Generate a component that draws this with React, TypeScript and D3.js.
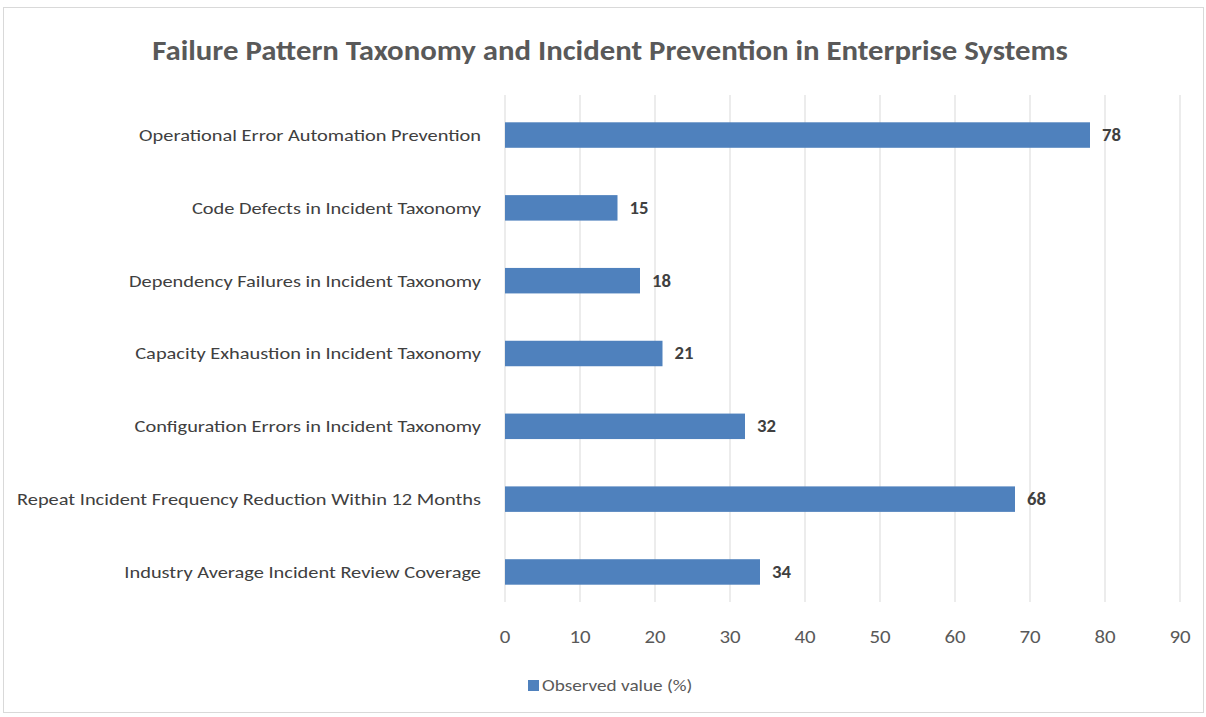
import React from "react";
import * as d3 from "d3";

const categories = [
  "Operational Error Automation Prevention",
  "Code Defects in Incident Taxonomy",
  "Dependency Failures in Incident Taxonomy",
  "Capacity Exhaustion in Incident Taxonomy",
  "Configuration Errors in Incident Taxonomy",
  "Repeat Incident Frequency Reduction Within 12 Months",
  "Industry Average Incident Review Coverage",
];
const values = [78, 15, 18, 21, 32, 68, 34];
const xTicks = [0, 10, 20, 30, 40, 50, 60, 70, 80, 90];
const title = "Failure Pattern Taxonomy and Incident Prevention in Enterprise Systems";
const seriesName = "Observed value (%)";

const W = 1206;
const H = 717;
const FONT = "Carlito, Lato, 'Open Sans', 'Liberation Sans', sans-serif";

function SText(props: {
  x: number;
  y: number;
  sx: number;
  anchor?: "start" | "middle" | "end";
  size: number;
  weight?: number;
  fill: string;
  dy?: string;
  children: React.ReactNode;
}) {
  const { x, y, sx, anchor = "start", size, weight = 400, fill, dy, children } = props;
  return (
    <g transform={`translate(${x},${y}) scale(${sx},1)`}>
      <text x={0} y={0} dy={dy} textAnchor={anchor} fontSize={size} fontWeight={weight} fill={fill}>
        {children}
      </text>
    </g>
  );
}

export default function App() {
  const x = d3.scaleLinear().domain([0, 90]).range([505, 1180]);
  const y = d3.scaleBand().domain(categories).range([99, 608]).paddingInner(0.65).paddingOuter(0.32);
  const bh = y.bandwidth();
  return (
    <svg width={W} height={H} style={{ position: "absolute", left: 0, top: 0 }} fontFamily={FONT}>
      <rect x={0} y={0} width={W} height={H} fill="#ffffff" />
      <rect x={3.5} y={7.5} width={1200} height={705} fill="#ffffff" stroke="#d9d9d9" strokeWidth={1} />
      <SText x={610} y={60} sx={1.1} anchor="middle" size={28} weight={600} fill="#595959">
        {title}
      </SText>
      {xTicks.map((t) => (
        <line key={"g" + t} x1={x(t)} x2={x(t)} y1={95} y2={602} stroke="#d9d9d9" strokeWidth={1} />
      ))}
      {xTicks.map((t) => (
        <SText key={"t" + t} x={x(t)} y={643} sx={1.1} anchor="middle" size={19} fill="#595959">
          {t}
        </SText>
      ))}
      {categories.map((c, i) => (
        <g key={c}>
          <rect x={x(0)} y={y(c)!} width={x(values[i]) - x(0)} height={bh} fill="#4F81BD" />
          <SText x={481} y={y(c)! + bh / 2} sx={1.2} dy="0.35em" anchor="end" size={17} fill="#404040">
            {c}
          </SText>
          <SText x={x(values[i]) + 12} y={y(c)! + bh / 2} sx={1.1} dy="0.35em" size={17} weight={600} fill="#404040">
            {values[i]}
          </SText>
        </g>
      ))}
      <rect x={528} y={680} width={11} height={11} fill="#4F81BD" />
      <SText x={542} y={691} sx={1.2} size={16} fill="#595959">
        {seriesName}
      </SText>
    </svg>
  );
}
